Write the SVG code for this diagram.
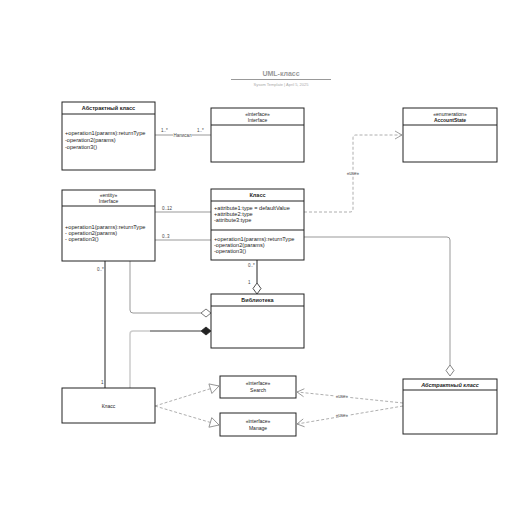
<svg xmlns="http://www.w3.org/2000/svg" width="516" height="516" viewBox="0 0 516 516">
<defs>
<style>
text{font-family:"Liberation Sans",Arial,sans-serif;fill:#222}
.box{fill:#fff;stroke:#222;stroke-width:1}
.t{font-size:5.5px;font-weight:bold;text-anchor:middle}
.s{font-size:5px;text-anchor:middle}
.m{font-size:5.6px}
.lbl{font-size:4.5px;fill:#444}
.c{fill:none;stroke:#999;stroke-width:1}
.k{fill:none;stroke:#222;stroke-width:1}
.d{fill:none;stroke:#999;stroke-width:0.8;stroke-dasharray:3,2}
</style>
<marker id="open" markerWidth="10" markerHeight="10" refX="8" refY="5" orient="auto" markerUnits="userSpaceOnUse"><path d="M1,1 L8,5 L1,9" fill="none" stroke="#888" stroke-width="0.8"/></marker>
<marker id="tri" markerWidth="12" markerHeight="12" refX="10" refY="6" orient="auto" markerUnits="userSpaceOnUse"><path d="M1,1 L10,6 L1,11 Z" fill="#fff" stroke="#888" stroke-width="0.8"/></marker>
</defs>
<rect width="516" height="516" fill="#fff"/>
<g id="title">
<text x="281" y="76" style="font-size:7px;font-weight:bold;fill:#999" text-anchor="middle">UML-класс</text>
<line x1="231" y1="79.5" x2="331" y2="79.5" stroke="#999" stroke-width="1"/>
<text x="281" y="86" style="font-size:4px;fill:#aaa" text-anchor="middle">Sysom Template  |  April 5, 2025</text>
</g>
<g id="connectors">
<line class="c" x1="155" y1="135" x2="211" y2="135"/>
<text class="lbl" x="161" y="132">1..*</text>
<text class="lbl" x="197" y="132">1..*</text>
<rect x="173" y="133" width="19" height="5" fill="#fff"/>
<text class="lbl" x="182.5" y="137" text-anchor="middle">Написал</text>
<path class="d" d="M304,212 H350 Q353,212 353,209 V138 Q353,135 356,135 H402" marker-end="url(#open)"/>
<rect x="346" y="170" width="14" height="6" fill="#fff"/>
<text class="lbl" x="353" y="175" text-anchor="middle">«use»</text>
<line class="c" x1="155" y1="212" x2="211" y2="212"/>
<text class="lbl" x="162" y="210">0..12</text>
<line class="c" x1="155" y1="240" x2="211" y2="240"/>
<text class="lbl" x="162" y="238">0..3</text>
<path class="c" d="M304,237 H447 Q450,237 450,240 V365"/>
<path d="M450,365 L454,370.5 L450,376 L446,370.5 Z" fill="#fff" stroke="#666" stroke-width="0.8"/>
<path class="k" d="M257,260 V283"/>
<path d="M257,283 L261,288.5 L257,294 L253,288.5 Z" fill="#fff" stroke="#222" stroke-width="0.8"/>
<text class="lbl" x="248" y="267">0..*</text>
<text class="lbl" x="248" y="284">1</text>
<path class="c" d="M130,261 V310 Q130,313 133,313 H201"/>
<path d="M201,313 L206,309 L211,313 L206,317 Z" fill="#fff" stroke="#555" stroke-width="0.8"/>
<path d="M130,388 V334 Q130,331 133,331 H201" fill="none" stroke="#ccc" stroke-width="1.5"/>
<path d="M150,331 H201" fill="none" stroke="#444" stroke-width="0.8"/>
<path d="M201,331 L206,327 L211,331 L206,335 Z" fill="#222" stroke="#222" stroke-width="0.8"/>
<line class="k" x1="105" y1="261" x2="105" y2="388"/>
<text class="lbl" x="97" y="271">0..*</text>
<text class="lbl" x="101" y="384">1</text>
<line class="d" x1="155" y1="406" x2="219" y2="386" marker-end="url(#tri)"/>
<line class="d" x1="155" y1="406" x2="219" y2="425" marker-end="url(#tri)"/>
<line class="d" x1="403" y1="403" x2="297" y2="392" marker-end="url(#open)"/>
<line class="d" x1="403" y1="406" x2="297" y2="424" marker-end="url(#open)"/>
<rect x="334" y="393" width="16" height="5" fill="#fff"/>
<text class="lbl" x="342" y="397.5" text-anchor="middle">«use»</text>
<rect x="334" y="412" width="16" height="5" fill="#fff"/>
<text class="lbl" x="342" y="416.5" text-anchor="middle">«use»</text>
</g>
<g id="abstract-top">
<rect class="box" x="62" y="102" width="93" height="68"/>
<line class="k" x1="62" y1="114" x2="155" y2="114"/>
<text class="t" x="108.5" y="110">Абстрактный класс</text>
<text class="m" x="65" y="135">+operation1(params):returnType</text>
<text class="m" x="65" y="142">-operation2(params)</text>
<text class="m" x="65" y="149">-operation3()</text>
</g>
<g id="interface-top">
<rect class="box" x="211" y="108" width="93" height="54"/>
<line class="k" x1="211" y1="125" x2="304" y2="125"/>
<text class="s" x="257.5" y="116">«interface»</text>
<text class="s" x="257.5" y="122">Interface</text>
</g>
<g id="accountstate">
<rect class="box" x="403" y="108" width="94" height="54"/>
<line class="k" x1="403" y1="125" x2="497" y2="125"/>
<text class="s" x="450" y="116">«enumeration»</text>
<text class="s" x="450" y="122" style="font-weight:bold">AccountState</text>
</g>
<g id="entity-interface">
<rect class="box" x="62" y="190" width="93" height="71"/>
<line class="k" x1="62" y1="206" x2="155" y2="206"/>
<text class="s" x="108.5" y="197">«entity»</text>
<text class="s" x="108.5" y="203">Interface</text>
<text class="m" x="65" y="229">+operation1(params):returnType</text>
<text class="m" x="65" y="235">- operation2(params)</text>
<text class="m" x="65" y="241">- operation3()</text>
</g>
<g id="klass-mid">
<rect class="box" x="211" y="189" width="93" height="71"/>
<line class="k" x1="211" y1="201" x2="304" y2="201"/>
<line class="k" x1="211" y1="230" x2="304" y2="230"/>
<text class="t" x="257.5" y="197">Класс</text>
<text class="m" x="214" y="210">+attribute1:type = defaultValue</text>
<text class="m" x="214" y="216">+attribute2:type</text>
<text class="m" x="214" y="222">-attribute3:type</text>
<text class="m" x="214" y="241">+operation1(params):returnType</text>
<text class="m" x="214" y="247">-operation2(params)</text>
<text class="m" x="214" y="253">-operation3()</text>
</g>
<g id="biblioteka">
<rect class="box" x="211" y="294" width="93" height="54"/>
<line class="k" x1="211" y1="306" x2="304" y2="306"/>
<text class="t" x="257.5" y="302">Библиотека</text>
</g>
<g id="klass-bottom">
<rect class="box" x="62" y="388" width="93" height="35"/>
<text class="s" x="108.5" y="407.5">Класс</text>
</g>
<g id="search">
<rect class="box" x="220" y="376" width="76" height="22"/>
<text class="s" x="258" y="385">«interface»</text>
<text class="s" x="258" y="392">Search</text>
</g>
<g id="manage">
<rect class="box" x="220" y="413" width="76" height="23"/>
<text class="s" x="258" y="423">«interface»</text>
<text class="s" x="258" y="430">Manage</text>
</g>
<g id="abstract-right">
<rect class="box" x="403" y="379" width="94" height="55"/>
<line class="k" x1="403" y1="390" x2="497" y2="390"/>
<text class="t" x="450" y="387" style="font-style:italic">Абстрактный класс</text>
</g>
</svg>
